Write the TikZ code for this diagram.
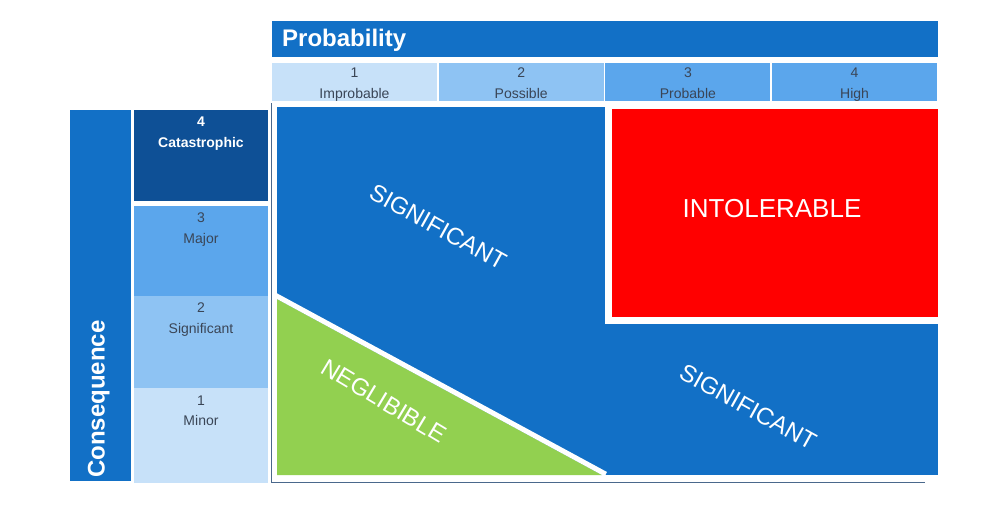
\documentclass[tikz,border=0pt]{standalone}
\usepackage{fontspec}
\setmainfont{Liberation Sans}
\definecolor{riskblue}{RGB}{18,112,198}
\definecolor{darkblue}{RGB}{14,80,150}
\definecolor{midblue}{RGB}{91,166,236}
\definecolor{lightblue}{RGB}{142,195,243}
\definecolor{paleblue}{RGB}{199,225,249}
\definecolor{axisgrey}{RGB}{74,104,140}
\definecolor{txtgrey}{RGB}{58,69,86}
\definecolor{intred}{RGB}{255,0,0}
\definecolor{neglgreen}{RGB}{146,208,80}

\tikzset{
  box/.style={rectangle, inner sep=0pt, outer sep=0pt},
  rowtxt/.style={font=\fontsize{14}{20.5}\selectfont, text=txtgrey, align=center, anchor=north, inner sep=0pt},
  toptxt/.style={rowtxt, text=white, font=\fontsize{14}{20.5}\selectfont\bfseries},
  zone/.style={font=\fontsize{24}{24}\selectfont, text=white, inner sep=0pt},
}

\begin{document}
\begin{tikzpicture}[x=1pt,y=-1pt]
    \useasboundingbox[fill=white] (0,0) rectangle (988,512);
    \node (prob) [box, anchor=north west, fill=riskblue, minimum width=666pt, minimum height=36pt] at (272,21) {};
    \node (probtxt) [anchor=base west, inner sep=0pt, text=white, font=\fontsize{24}{24}\selectfont\bfseries] at (282,46.7) {Probability};
    \foreach \i/\name/\col in {1/Improbable/paleblue,2/Possible/lightblue,3/Probable/midblue,4/High/midblue}{
        \node (p\i) [box, anchor=north west, fill=\col, minimum width=165pt, minimum height=37.5pt] at ({272+(\i-1)*166.7},63.3) {};
        \node (pt\i) [rowtxt] at ([yshift=-4.5pt]p\i.north) {\i\\\name};
    }
    \node (cons) [box, anchor=north west, fill=riskblue, minimum width=61pt, minimum height=371pt] at (70,110) {};
    \node (constxt) [rotate=90, anchor=base west, inner sep=0pt, text=white, font=\fontsize{24}{24}\selectfont\bfseries] at (104.5,478) {Consequence};
    \foreach \i/\name/\col/\ytop/\hgt/\sty in {4/Catastrophic/darkblue/110/91/toptxt,3/Major/midblue/206/90/rowtxt,
        2/Significant/lightblue/296/92.3/rowtxt,1/Minor/paleblue/388.3/94.4/rowtxt}{
        \node (c\i) [box, anchor=north west, fill=\col, minimum width=134pt, minimum height=\hgt pt] at (134,\ytop) {};
        \node (ct\i) [\sty] at ([yshift=-7pt]c\i.north) {\i\\\name};
    }
    \draw[axisgrey, line width=1.5pt] (271.5,103) -- (271.5,482.5) -- (925,482.5);
    \node (main) [box, anchor=north west, fill=riskblue, minimum width=661pt, minimum height=367.7pt] at (277,107.3) {};
    \node (intol) [box, fill=intred, draw=white, line width=7pt, minimum width=333.3pt, minimum height=214.4pt] at (774.85,213) {};
    \fill[neglgreen] (277,299) -- (277,475) -- (602,475) -- cycle;
    \draw[white, line width=5pt] (275.6,295.4) -- (605.8,474.2);
    \node (sigup) [zone, rotate=-29] at (438,227) {SIGNIFICANT};
    \node (siglow) [zone, rotate=-29] at (748,407) {SIGNIFICANT};
    \node (negl) [zone, rotate=-31] at (384,401) {NEGLIBIBLE};
    \node (intoltxt) [zone, font=\fontsize{26}{26}\selectfont] at (772,209) {INTOLERABLE};
\end{tikzpicture}
\end{document}
